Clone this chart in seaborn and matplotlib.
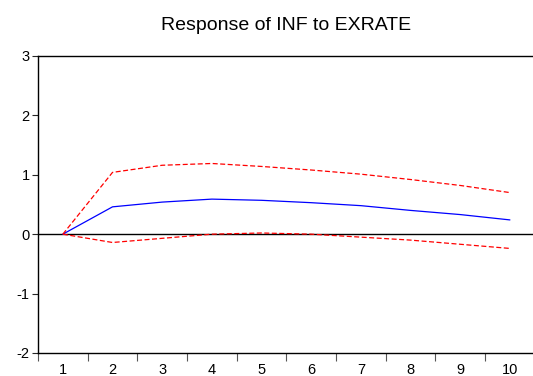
import pandas as pd
import matplotlib.pyplot as plt
import seaborn as sns
from matplotlib.ticker import FixedLocator, NullFormatter

# Impulse response values
periods = [1, 2, 3, 4, 5, 6, 7, 8, 9, 10]
response = [0.0, 0.46, 0.54, 0.59, 0.57, 0.53, 0.48, 0.40, 0.33, 0.24]
upper = [0.0, 1.04, 1.16, 1.19, 1.14, 1.08, 1.01, 0.92, 0.82, 0.70]
lower = [0.0, -0.14, -0.07, 0.0, 0.02, 0.0, -0.05, -0.10, -0.17, -0.24]

df = pd.DataFrame({"Period": periods, "Response": response,
                   "Upper": upper, "Lower": lower})

sns.set_style("white")
plt.rcParams["font.family"] = ["Liberation Sans", "DejaVu Sans"]
plt.rcParams["axes.unicode_minus"] = False

fig = plt.figure(figsize=(5.33, 3.76), dpi=100)
ax = fig.add_axes([0.0713, 0.0612, 0.932, 0.79])

ax.axhline(0, color="black", linewidth=1.0, zorder=1)
sns.lineplot(x="Period", y="Response", data=df, ax=ax, color="#0000FF", linewidth=0.9)
sns.lineplot(x="Period", y="Upper", data=df, ax=ax, color="#FF0000",
             linewidth=0.9, linestyle=(0, (4, 2)))
sns.lineplot(x="Period", y="Lower", data=df, ax=ax, color="#FF0000",
             linewidth=0.9, linestyle=(0, (4, 2)))

ax.set_xlim(0.5, 10.5)
ax.set_ylim(-2, 3)
ax.set_yticks([-2, -1, 0, 1, 2, 3])
ax.xaxis.set_major_locator(FixedLocator([p + 0.5 for p in [0] + periods]))
ax.xaxis.set_major_formatter(NullFormatter())
ax.xaxis.set_minor_locator(FixedLocator(periods))
ax.set_xticklabels([str(p) for p in periods], minor=True)
ax.tick_params(axis="x", which="major", direction="out", length=6, width=0.8,
               bottom=True, colors="#555555")
ax.tick_params(axis="x", which="minor", length=0, labelsize=10.5, pad=7)
ax.tick_params(axis="y", direction="out", length=4, width=0.8, left=True,
               labelsize=10.5, pad=2)
for lbl in ax.get_xticklabels(minor=True) + ax.get_yticklabels():
    lbl.set_color("black")

for s in ax.spines.values():
    s.set_color("black")
    s.set_linewidth(1.0)

ax.set_xlabel("")
ax.set_ylabel("")
ax.set_title("Response of INF to EXRATE", fontsize=14, pad=19, color="black")

plt.savefig("out.png", dpi=100)
